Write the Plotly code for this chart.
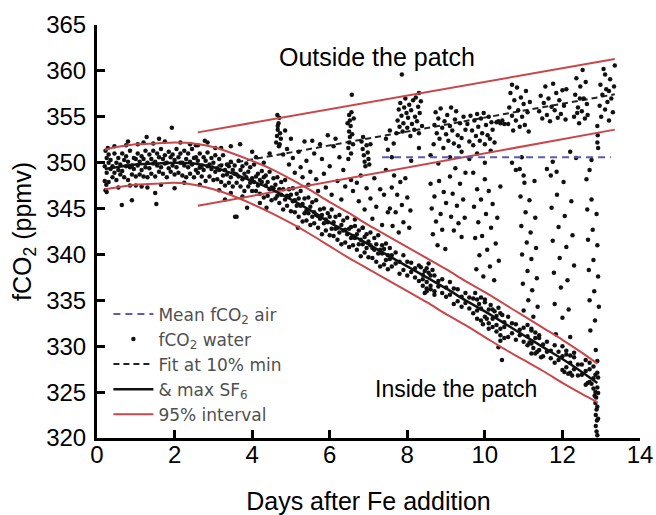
import plotly.graph_objects as go

# ---------------- data ----------------
# dense band of fCO2 water (days 0.2 - 7.5), four readings per sampling column
band_days = [0.2,0.3,0.4,0.5,0.6,0.7,0.8,0.9,1.0,1.1,1.2,1.3,1.4,1.5,1.6,1.7,1.8,1.9,2.0,2.1,
             2.2,2.3,2.4,2.5,2.6,2.7,2.8,2.9,3.0,3.1,3.2,3.3,3.4,3.5,3.6,3.7,3.8,3.9,4.0,4.1,
             4.2,4.3,4.4,4.5,4.6,4.7,4.8,4.9,5.0,5.1,5.2,5.3,5.4,5.5,5.6,5.7,5.8,5.9,6.0,6.1,
             6.2,6.3,6.4,6.5,6.6,6.7,6.8,6.9,7.0,7.1,7.2,7.3,7.4,7.5]
band_days_b = [0.25,0.35,0.45,0.55,0.65,0.75,0.85,0.95,1.05,1.15,1.25,1.35,1.45,1.55,1.65,1.75,1.85,1.95,2.05,2.15,
               2.25,2.35,2.45,2.55,2.65,2.75,2.85,2.95,3.05,3.15,3.25,3.35,3.45,3.55,3.65,3.75,3.85,3.95,4.05,4.15,
               4.25,4.35,4.45,4.55,4.65,4.75,4.85,4.95,5.05,5.15,5.25,5.35,5.45,5.55,5.65,5.75,5.85,5.95,6.05,6.15,
               6.25,6.35,6.45,6.55,6.65,6.75,6.85,6.95,7.05,7.15,7.25,7.35,7.45,7.55]
band_y1 = [348.0,347.9,348.4,348.1,348.7,348.4,348.1,348.7,348.5,348.7,348.5,348.4,348.8,348.5,349.0,348.8,348.4,349.0,348.7,348.9,
           348.6,348.4,348.8,348.4,348.9,348.5,348.0,348.5,348.1,348.2,347.9,347.5,347.8,347.4,347.8,347.4,346.9,347.4,346.9,346.9,
           346.6,346.2,346.4,345.9,346.1,345.6,344.9,345.3,344.7,344.6,344.1,343.6,343.7,343.2,343.4,342.9,342.2,342.6,342.1,342.0,
           341.6,341.1,341.3,340.8,341.0,340.5,339.8,340.2,339.7,339.6,339.2,338.7,338.9,338.4]
band_y2 = [348.9,349.3,348.9,349.2,349.1,349.6,349.5,349.3,349.7,349.2,349.5,349.4,349.9,349.7,349.5,349.9,349.4,349.7,349.5,350.0,
           349.7,349.5,349.8,349.2,349.5,349.2,349.6,349.3,349.0,349.2,348.6,348.7,348.4,348.8,348.5,348.2,348.4,347.8,347.9,347.5,
           347.9,347.5,347.1,347.2,346.4,346.5,346.0,346.3,345.8,345.3,345.3,344.5,344.5,344.1,344.3,343.9,343.4,343.5,342.8,342.8,
           342.4,342.6,342.2,341.8,341.8,341.1,341.1,340.7,341.0,340.5,340.1,340.1,339.4,339.5]
band_y3 = [349.6,350.0,349.6,350.0,349.8,350.3,350.1,349.7,350.4,350.1,350.4,350.0,350.4,350.1,350.6,350.4,350.0,350.6,350.3,350.6,
           350.0,350.4,350.1,350.5,350.2,349.7,350.2,349.8,350.0,349.4,349.7,349.2,349.6,349.2,348.7,349.2,348.8,349.0,348.3,348.5,
           348.1,348.4,347.9,347.3,347.6,347.1,347.1,346.4,346.5,345.9,346.1,345.5,344.8,345.2,344.6,344.2,344.3,343.8,344.1,343.5,
           342.9,343.2,342.7,342.8,342.0,342.2,341.6,341.9,341.4,340.7,341.1,340.5,340.6,339.9]
band_y4 = [350.5,350.3,351.0,350.5,351.0,350.7,351.3,350.5,351.0,350.7,351.3,350.9,351.3,351.0,351.5,350.8,351.2,350.9,351.5,351.0,
           351.3,351.0,351.5,350.6,351.0,350.6,351.1,350.5,350.8,350.4,350.8,349.8,350.1,349.7,350.2,349.6,349.9,349.5,349.8,348.8,
           349.1,348.6,349.0,348.3,348.4,347.9,348.1,347.1,347.2,346.6,346.9,346.1,346.2,345.7,345.9,344.9,345.0,344.5,344.9,344.1,
           344.3,343.7,344.0,343.0,343.1,342.6,342.9,342.2,342.4,341.8,342.1,341.0,341.2,340.7]

# scattered points around the early band (day, ppmv)
early_pts = [(0.22,347.0),(0.25,346.8),(0.22,351.3),(0.28,351.6),(0.24,347.6),(0.3,350.9),
             (0.64,345.4),(0.9,345.9),(1.5,346.7),(1.53,345.5),(1.93,353.8),(1.6,352.6),(1.28,352.8),
             (0.8,352.3),(1.2,352.2),(2.0,347.2),(1.0,347.5),(1.3,347.3),(2.78,352.4),(2.85,352.2),
             (3.69,352.0),(3.56,344.1),(3.6,344.1),(3.87,345.1),(4.2,345.6),(4.37,345.1),(3.3,346.0),
             (2.6,351.9),(3.2,351.6),(3.45,351.8),(4.0,351.2),(4.1,350.6),(4.3,350.0),(4.45,351.0),
             (2.4,352.0),(0.45,351.8),(0.75,351.9),(1.05,352.0),(1.45,352.1),(1.75,352.3),(2.15,352.2),
             (2.55,351.9),(3.05,351.6),(0.55,347.3),(0.85,347.5),(1.15,347.4),(1.65,347.6),(2.25,347.8),
             (2.65,347.6),(3.15,347.0),(3.45,346.7),(3.75,346.3),(5.18,342.9)]

# points above the declining band, days 4.5 - 7.6
mix_pts = [(4.62,352.2),(4.64,352.9),(4.66,353.6),(4.68,354.3),(4.7,354.9),(4.65,355.2),(4.72,353.2),
           (4.74,352.6),(4.69,351.8),(4.66,354.0),(4.71,352.0),
           (4.8,350.9),(4.9,351.5),(4.95,349.8),(5.05,350.5),(5.1,348.9),(5.2,351.2),(5.25,349.5),
           (5.3,348.4),(5.4,350.2),(5.45,347.6),(5.5,349.0),(5.6,351.0),(5.65,348.2),(5.7,346.9),
           (5.8,350.4),(5.85,348.8),(5.9,347.3),(6.0,349.6),(6.05,346.5),(6.1,351.8),(6.2,348.0),
           (6.25,350.6),(6.3,346.0),(6.35,349.2),(6.4,347.4),(5.55,352.4),(5.75,352.0),(6.15,352.6),
           (5.95,353.0),(5.35,352.3),(5.0,352.6),(4.85,353.5),
           (6.48,351.6),(6.5,352.2),(6.52,352.8),(6.5,353.4),(6.54,354.0),(6.52,354.6),(6.5,355.2),
           (6.56,355.5),(6.58,353.1),(6.6,352.0),(6.46,354.3),(6.62,354.8),(6.57,357.4),(6.55,351.0),
           (6.48,350.4),
           (6.82,352.3),(6.85,351.5),(6.88,350.8),(6.9,350.1),(6.92,349.6),(6.95,351.9),(6.98,351.1),
           (7.0,350.4),(7.02,349.8),(6.86,352.8),(7.05,352.0),
           (6.55,348.1),(6.6,346.9),(6.7,347.8),(6.75,345.8),(6.8,348.6),(6.9,344.9),(6.95,347.2),
           (7.05,346.1),(7.1,343.9),(7.15,348.3),(7.2,345.2),(7.3,347.1),(7.35,343.2),(7.4,346.5),
           (7.45,349.2),(7.5,344.6),(6.65,343.8),(6.85,342.9)]

# inside-patch readings along the decline, days 7.6 - 12.9
inside_days = [7.6,7.7,7.8,7.9,8.0,8.1,8.2,8.3,8.4,8.5,8.6,8.7,8.8,8.9,9.0,9.1,9.2,9.3,9.4,9.5,
               9.6,9.7,9.8,9.9,10.0,10.1,10.2,10.3,10.4,10.5,10.6,10.7,10.8,10.9,11.0,11.1,11.2,11.3,11.4,11.5,
               11.6,11.7,11.8,11.9,12.0,12.1,12.2,12.3,12.4,12.5,12.6,12.7,12.8,12.9]
inside_ya = [338.7,339.0,337.9,338.3,337.7,338.1,337.5,337.1,337.3,336.3,336.6,336.0,336.5,335.8,335.4,335.6,334.6,334.9,334.3,334.7,
             334.1,333.6,333.9,332.8,333.2,332.5,333.0,332.3,331.9,332.1,331.0,331.4,330.7,331.2,330.5,330.1,330.3,329.2,329.6,328.9,
             329.4,328.7,328.2,328.5,327.4,327.7,327.1,327.5,326.8,326.9,325.8,326.1,325.4,325.5]
inside_yb = [339.9,340.2,339.2,339.9,339.2,339.1,338.5,338.8,337.8,338.5,337.7,337.7,337.1,337.3,336.4,337.0,336.3,336.2,335.4,335.8,
             335.3,335.2,335.1,334.1,334.8,334.0,334.0,333.3,333.6,332.6,333.2,332.5,332.4,331.8,332.0,331.1,331.7,330.9,330.9,330.2,
             330.5,329.5,330.1,329.4,328.9,329.1,328.2,328.8,328.0,328.0,327.3,327.5,326.5,327.1]
inside_clusters = [(8.35,338.6),(8.4,336.6),(8.45,338.2),(8.5,337.0),(8.55,338.0),(8.45,335.8),(8.6,336.2),
                   (8.65,338.3),(8.7,335.6),(8.55,339.0),(8.5,336.0),
                   (9.75,335.8),(9.8,333.0),(9.85,334.6),(9.9,335.3),(9.95,332.4),(10.0,335.1),(10.05,333.0),
                   (10.1,331.9),(10.15,334.5),(10.2,332.1),(10.25,333.8),(10.3,331.6),(10.35,334.2),(10.4,331.2),
                   (10.45,333.4),(10.5,330.9),(10.4,330.6),(10.35,329.9),(10.44,328.5),
                   (11.1,332.3),(11.15,330.4),(11.2,331.9),(11.25,329.8),(11.3,331.5),(11.35,329.4),(11.4,331.2),
                   (11.45,328.8),(11.2,329.2),
                   (12.0,330.0),(12.05,327.2),(12.1,329.5),(12.15,327.0),(12.2,329.0),(12.25,326.8),(12.3,329.3),
                   (12.6,328.5),(12.65,326.0),(12.7,328.2),(12.75,325.9),(12.8,327.8),(12.85,326.9),(12.9,328.4),
                   (12.92,326.6),
                   (12.85,325.0),(12.87,324.4),(12.85,323.8),(12.88,323.1),(12.86,322.5),(12.89,321.9),(12.86,321.3),
                   (12.88,320.7),(12.9,320.3),(12.92,324.9),(12.9,323.4),(12.92,322.1),(12.83,324.6)]

# outside-patch readings, days 7.7 - 13.35
outside_pts = [(7.72,353.2),(7.75,354.6),(7.78,355.8),(7.8,353.9),(7.82,356.5),(7.85,355.1),(7.88,353.4),
               (7.9,354.3),(7.92,356.0),(7.95,357.0),(7.98,355.4),(8.0,353.8),(8.02,354.9),(8.05,356.3),
               (8.08,352.9),(8.1,355.7),(8.12,354.2),(8.15,356.8),(8.18,353.6),(8.2,355.0),(8.22,357.1),
               (8.25,354.5),(8.28,356.1),(8.3,353.2),(8.32,355.4),(8.35,356.7),(8.38,354.0),(7.86,359.6),
               (8.3,357.6),
               (8.68,352.0),(8.7,354.1),(8.73,355.5),(8.76,353.2),(8.8,354.8),(8.83,352.6),(8.86,355.9),
               (8.9,353.8),(8.93,351.6),(8.96,354.5),(9.0,353.1),(9.03,355.2),(9.06,352.4),(9.1,354.0),
               (9.13,356.0),(9.16,353.5),(9.2,352.1),(9.23,354.7),(9.26,355.6),(9.3,353.0),(9.33,351.8),
               (9.36,354.3),(9.4,352.7),(9.45,355.0),(9.5,353.6),
               (9.55,354.2),(9.6,352.3),(9.63,355.1),(9.67,353.5),(9.7,351.9),(9.73,354.6),(9.77,352.9),
               (9.8,355.3),(9.83,353.9),(9.87,352.4),(9.9,354.8),(9.93,353.2),(9.97,355.4),(10.0,352.0),
               (10.03,354.1),(10.07,353.0),(10.1,355.0),(10.13,352.6),(10.17,354.4),(10.2,353.6),(10.25,352.2),
               (10.3,354.4),(10.35,354.5),(10.4,354.3),(10.45,354.6),(10.5,354.2),
               (10.6,354.2),(10.63,356.0),(10.66,357.6),(10.7,355.1),(10.73,353.5),(10.76,356.8),(10.8,354.6),
               (10.83,358.2),(10.86,355.7),(10.9,353.9),(10.93,357.1),(10.96,355.0),(11.0,356.4),(11.03,354.1),
               (11.06,357.8),(11.1,355.5),(11.13,353.4),(11.16,356.6),(10.7,358.5),
               (11.4,355.6),(11.44,357.3),(11.48,354.8),(11.52,356.5),(11.56,358.3),(11.6,355.2),(11.64,357.0),
               (11.68,354.5),(11.72,356.1),(11.76,358.6),(11.8,355.7),(11.84,357.6),(11.88,354.9),(11.92,356.8),
               (11.96,355.3),(12.0,357.9),(12.04,356.2),(12.08,354.7),(12.1,358.0),
               (12.3,355.0),(12.33,357.4),(12.36,359.2),(12.4,356.0),(12.43,354.3),(12.46,358.3),(12.5,355.6),
               (12.52,360.1),(12.55,357.0),(12.58,354.8),(12.6,358.8),(12.63,356.4),(12.65,355.2),(12.45,357.0),
               (12.38,355.4),
               (12.96,356.2),(12.98,358.5),(13.0,355.0),(13.03,357.4),(13.06,360.2),(13.1,355.8),(13.13,358.0),
               (13.16,356.6),(13.2,354.6),(13.23,359.1),(13.26,357.0),(13.3,355.5),(13.33,358.3),(13.35,360.6),
               (13.1,359.6),(13.2,357.8),(12.9,354.0),(12.91,353.0),(12.9,352.2),(12.92,351.6),
               (7.45,352.6),(7.5,351.4),(7.55,353.5),(7.6,350.6),(7.65,352.1),(9.4,351.2),(9.6,350.4),
               (9.8,351.0),(10.0,350.0),(10.15,351.3),(10.7,350.0),(10.8,349.2),(10.95,350.6),(11.0,348.6),
               (11.6,349.3),(11.75,350.1),(11.85,349.0),(12.2,351.2),(12.35,350.5),(12.7,349.2),(12.75,350.3),
               (8.6,350.8),(8.8,349.9),(9.1,350.6),(8.3,351.6),(8.1,350.2)]

# mixing transects between the two water masses
transect_pts = [(7.55,345.0),(7.6,347.3),(7.62,343.1),(7.66,348.6),(7.7,344.6),(7.74,346.5),(7.78,342.4),
                (7.82,347.9),(7.86,345.4),(7.9,343.5),(7.95,348.3),(8.0,346.2),(8.05,342.9),(8.08,344.8),
                (8.6,347.7),(8.63,345.0),(8.66,342.2),(8.7,346.3),(8.74,343.6),(8.78,341.0),(8.82,348.0),
                (8.86,344.4),(8.9,342.7),(8.94,346.8),(8.98,340.6),(9.0,345.6),
                (9.1,348.5),(9.13,344.1),(9.17,346.6),(9.2,342.6),(9.24,349.4),(9.28,345.3),(9.32,343.4),
                (9.36,347.7),(9.4,341.9),(9.44,346.0),(9.48,344.0),(9.5,348.9),
                (9.7,348.9),(9.72,345.2),(9.75,341.8),(9.78,338.4),(9.8,347.1),(9.83,343.5),(9.86,339.9),
                (9.9,346.0),(9.93,342.0),(9.96,337.6),(10.0,348.2),(10.03,344.4),(10.06,340.5),(10.1,346.9),
                (10.13,338.7),(10.16,342.9),(10.2,345.5),(10.24,337.2),(10.28,341.2),(10.32,344.0),(10.36,339.3),
                (10.4,347.4),
                (10.9,349.3),(10.92,346.3),(10.94,343.1),(10.96,340.0),(10.98,336.8),(11.0,333.9),(11.02,347.8),
                (11.05,344.6),(11.08,341.3),(11.1,338.2),(11.12,335.0),(11.15,345.9),(11.18,342.4),(11.2,339.5),
                (11.22,336.1),(11.25,333.2),(11.28,348.0),(11.3,344.0),(11.32,340.7),(11.34,337.4),(11.36,334.3),
                (11.7,348.6),(11.72,345.1),(11.75,341.5),(11.78,338.0),(11.8,334.6),(11.83,331.3),(11.86,346.5),
                (11.9,343.0),(11.93,339.6),(11.96,336.4),(12.0,333.1),(12.03,347.9),(12.06,344.2),(12.1,340.8),
                (12.13,337.2),(12.16,334.0),(12.2,331.0),(12.23,345.8),(12.26,342.1),(12.3,338.8),
                (12.62,348.2),(12.64,344.9),(12.66,341.6),(12.68,338.3),(12.7,335.0),(12.72,331.7),(12.75,346.0),
                (12.78,342.7),(12.8,339.4),(12.82,336.0),(12.84,332.8),(12.86,329.6),(12.88,344.4),(12.9,341.0),
                (12.92,337.6),(12.94,334.3)]

# fitted curves: inside patch (max SF6) and its 95% interval
fit_in_days = [0.2,0.5,1,1.5,2,2.5,3,3.5,4,4.5,5,5.5,6,6.5,7,7.5,8,8.5,9,9.5,10,10.5,11,11.5,12,12.5,12.9]
fit_in = [349.3,349.5,349.8,349.9,350.0,349.9,349.5,348.8,348.0,347.1,346.0,344.8,343.5,342.3,341.1,339.9,
          338.7,337.5,336.3,335.0,333.8,332.5,331.2,329.9,328.6,327.2,326.0]
fit_in_upper = [351.4,351.7,352.0,352.1,352.2,352.1,351.7,351.0,350.2,349.3,348.2,347.0,345.7,344.5,343.2,342.0,
                340.8,339.6,338.4,337.1,335.9,334.6,333.3,332.0,330.7,329.3,328.1]
fit_in_lower = [347.1,347.3,347.6,347.7,347.8,347.6,347.1,346.4,345.5,344.5,343.4,342.2,340.9,339.6,338.4,337.2,
                336.0,334.8,333.5,332.3,331.0,329.7,328.5,327.3,326.0,324.8,323.9]
# outside patch (10% min SF6) fit and interval
fit_out_days = [2.6, 13.35]
fit_out = [349.3, 357.45]
fit_out_upper = [353.3, 361.3]
fit_out_lower = [345.3, 353.6]
# mean atmospheric fCO2
air_days = [7.35, 13.25]
air_fco2 = [350.6, 350.6]

# ---------------- assemble scatter ----------------
water_x, water_y = [], []
water_x += band_days + band_days_b + band_days + band_days_b
water_y += band_y1 + band_y2 + band_y3 + band_y4
for pts in (early_pts, mix_pts, inside_clusters, outside_pts, transect_pts):
    water_x += [p[0] for p in pts]
    water_y += [p[1] for p in pts]
water_x += inside_days + inside_days
water_y += inside_ya + inside_yb

RED = "#c9474a"
fig = go.Figure()

# dashed outside fit lies underneath the readings
fig.add_trace(go.Scatter(x=fit_out_days, y=fit_out, mode="lines", name="Fit at 10% min",
                         line=dict(color="#222222", width=2, dash="6px,4px"), legendrank=3))
fig.add_trace(go.Scatter(x=water_x, y=water_y, mode="markers", name="fCO<sub>2</sub> water",
                         marker=dict(color="#111111", size=4.5, line=dict(width=0)),
                         legendrank=2))
# 95% intervals
fig.add_trace(go.Scatter(x=fit_out_days, y=fit_out_upper, mode="lines", name="95% interval",
                         legendgroup="ci", showlegend=True, legendrank=5,
                         line=dict(color=RED, width=2)))
fig.add_trace(go.Scatter(x=fit_out_days, y=fit_out_lower, mode="lines", showlegend=False,
                         legendgroup="ci", line=dict(color=RED, width=2)))
fig.add_trace(go.Scatter(x=fit_in_days, y=fit_in_upper, mode="lines", showlegend=False,
                         legendgroup="ci", line=dict(color=RED, width=2, shape="spline")))
fig.add_trace(go.Scatter(x=fit_in_days, y=fit_in_lower, mode="lines", showlegend=False,
                         legendgroup="ci", line=dict(color=RED, width=2, shape="spline")))
fig.add_trace(go.Scatter(x=fit_in_days, y=fit_in, mode="lines", name="&amp; max SF<sub>6</sub>",
                         line=dict(color="#111111", width=2.5, shape="spline"), legendrank=4))
fig.add_trace(go.Scatter(x=air_days, y=air_fco2, mode="lines", name="Mean fCO<sub>2</sub> air",
                         line=dict(color="#5b5bb0", width=2, dash="7px,5px"), legendrank=1))

fig.add_annotation(x=7.22, y=361.5, text="Outside the patch", showarrow=False,
                   font=dict(size=25, color="#000000"))
fig.add_annotation(x=9.25, y=325.35, text="Inside the patch", showarrow=False,
                   font=dict(size=23, color="#000000"))

fig.update_layout(
    width=656, height=515,
    margin=dict(l=97, r=16, t=25, b=77, autoexpand=False),
    paper_bgcolor="white", plot_bgcolor="white",
    font=dict(family="Liberation Sans, Arial, sans-serif", color="#000000", size=24),
    showlegend=True,
    legend=dict(x=0.021, y=0.343, xanchor="left", yanchor="top", bgcolor="rgba(0,0,0,0)",
                font=dict(family="DejaVu Sans, sans-serif", size=17, color="#505050"),
                tracegroupgap=0, itemwidth=40),
)
fig.update_xaxes(range=[0, 14], tickvals=[0, 2, 4, 6, 8, 10, 12, 14], ticks="inside", ticklen=8,
                 tickwidth=2.5, tickcolor="black", showline=True, linecolor="black", linewidth=3,
                 showgrid=False, zeroline=False, tickfont=dict(size=24), ticklabelstandoff=-7,
                 automargin=False,
                 title=dict(text="Days after Fe addition", font=dict(size=25), standoff=44))
fig.update_yaxes(range=[320, 365], tickvals=[320, 325, 330, 335, 340, 345, 350, 355, 360, 365],
                 ticks="inside", ticklen=8, tickwidth=2.5, tickcolor="black", showline=True,
                 linecolor="black", linewidth=3, showgrid=False, zeroline=False, tickfont=dict(size=24),
                 automargin=False, ticklabelstandoff=3,
                 title=dict(text="fCO<sub>2</sub> (ppmv)", font=dict(size=25), standoff=8))

fig.write_html("out.html")
